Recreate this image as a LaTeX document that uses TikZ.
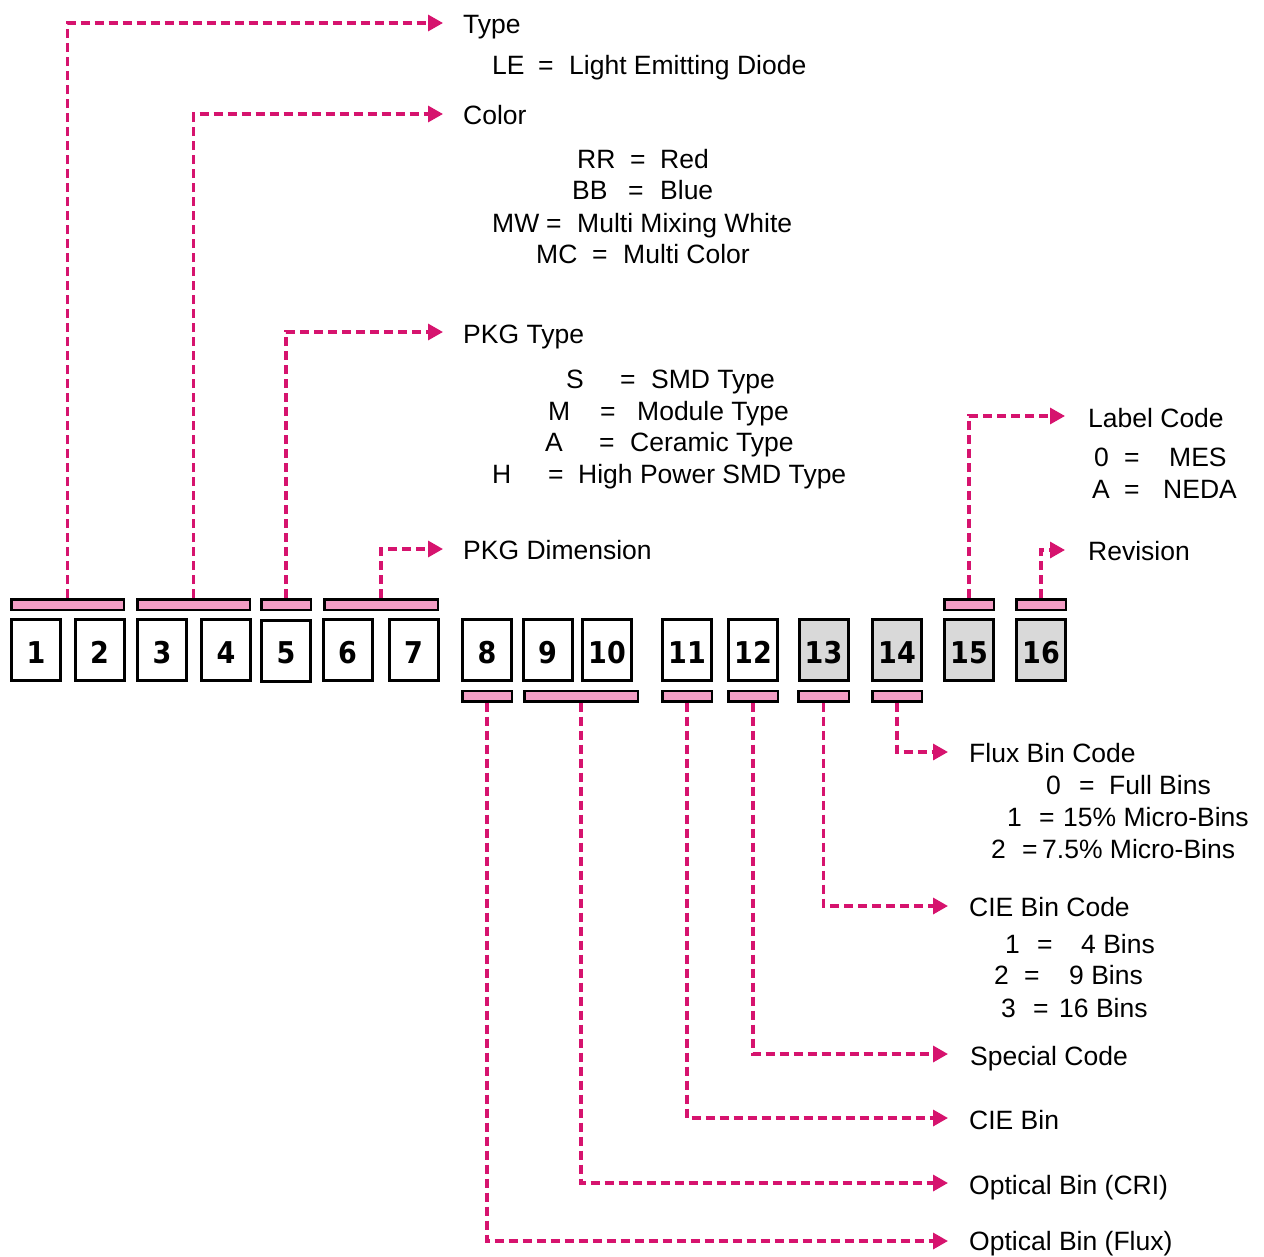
\documentclass[tikz,border=0pt]{standalone}
\usepackage{fontspec}
\setmainfont{Liberation Sans}
\newfontfamily\boxfont{DejaVu Sans Condensed}
\usetikzlibrary{arrows.meta}
\definecolor{lnk}{RGB}{214,19,110}
\definecolor{barpink}{RGB}{243,157,196}
\definecolor{boxgray}{RGB}{217,217,217}
\newcommand\codeentry[7]{%
  \node[lbl] (#1k) at (#3,#2) {#4};
  \node[lbl] (#1e) at (#5,#2) {=};
  \node[lbl] (#1v) at (#6,#2) {#7};}
\newcommand\dg[1]{\raisebox{-2.5pt}[\height][\depth]{#1}}
\begin{document}
\begin{tikzpicture}[x=1pt,y=-1pt,
  digit/.style={draw=black,line width=3pt,minimum width=49pt,minimum height=61pt,inner sep=0pt,fill=white,
    font=\boxfont\bfseries\fontsize{30}{32}\selectfont},
  graydigit/.style={digit,fill=boxgray},
  bar/.style={draw=black,line width=2.5pt,fill=barpink,minimum height=10.5pt,inner sep=0pt},
  conn/.style={draw=lnk,line width=3.3pt,dash pattern=on 9pt off 5pt,-{Triangle[length=15pt,width=16pt]}},
  lbl/.style={anchor=base west,inner sep=0pt,font=\fontsize{26.5}{30}\selectfont}]
\useasboundingbox (0,0) rectangle (1264,1256);
% digit boxes
\node[digit] (d1) at (36,650) {\dg{1}};
\node[digit] (d2) at (99.5,650) {\dg{2}};
\node[digit] (d3) at (162,650) {\dg{3}};
\node[digit] (d4) at (226,650) {\dg{4}};
\node[digit] (d5) at (286,650.5) {\dg{5}};
\node[digit] (d6) at (347.5,650) {\dg{6}};
\node[digit] (d7) at (413.5,650) {\dg{7}};
\node[digit] (d8) at (487,650) {\dg{8}};
\node[digit] (d9) at (547.5,650) {\dg{9}};
\node[digit] (d10) at (607,650) {\dg{10}};
\node[digit] (d11) at (687,650) {\dg{11}};
\node[digit] (d12) at (753,650) {\dg{12}};
\node[graydigit] (d13) at (823.5,650) {\dg{13}};
\node[graydigit] (d14) at (897,650) {\dg{14}};
\node[graydigit] (d15) at (969,650) {\dg{15}};
\node[graydigit] (d16) at (1041,650) {\dg{16}};
% bars above
\node[bar,minimum width=112.5pt] (bA) at (67.5,604.5) {};
\node[bar,minimum width=112.5pt] (bB) at (193.5,604.5) {};
\node[bar,minimum width=49.5pt] (bC) at (286,604.5) {};
\node[bar,minimum width=113.5pt] (bD) at (381,604.5) {};
\node[bar,minimum width=49.5pt] (bO) at (969,604.5) {};
\node[bar,minimum width=49.5pt] (bP) at (1041,604.5) {};
% bars below
\node[bar,minimum width=49.5pt] (bH) at (487,696) {};
\node[bar,minimum width=113.5pt] (bI) at (581,696) {};
\node[bar,minimum width=49.5pt] (bK) at (687,696) {};
\node[bar,minimum width=49.5pt] (bL) at (753,696) {};
\node[bar,minimum width=50.5pt] (bM) at (823.5,696) {};
\node[bar,minimum width=49.5pt] (bN) at (897,696) {};
% arrow targets
\coordinate (tType) at (443,23);
\coordinate (tColor) at (443,114);
\coordinate (tPkg) at (443,332);
\coordinate (tDim) at (443,549);
\coordinate (tLabel) at (1065,416);
\coordinate (tRev) at (1065,550);
\coordinate (tFlux) at (948,752);
\coordinate (tCie) at (948,906);
\coordinate (tSpec) at (948,1054);
\coordinate (tCieBin) at (948,1118);
\coordinate (tCri) at (948,1183);
\coordinate (tOptFlux) at (948,1241);
% connectors
\draw[conn] (bA.north) |- (tType);
\draw[conn] (bB.north) |- (tColor);
\draw[conn] (bC.north) |- (tPkg);
\draw[conn] (bD.north) |- (tDim);
\draw[conn] (bO.north) |- (tLabel);
\draw[conn] (bP.north) |- (tRev);
\draw[conn] (bN.south) |- (tFlux);
\draw[conn] (bM.south) |- (tCie);
\draw[conn] (bL.south) |- (tSpec);
\draw[conn] (bK.south) |- (tCieBin);
\draw[conn] (bI.south) |- (tCri);
\draw[conn] (bH.south) |- (tOptFlux);
% titles
\node[lbl] (hType) at (463,33) {Type};
\node[lbl] (hColor) at (463,124) {Color};
\node[lbl] (hPkg) at (463,343) {PKG Type};
\node[lbl] (hDim) at (463,559) {PKG Dimension};
\node[lbl] (hLabel) at (1088,427) {Label Code};
\node[lbl] (hRev) at (1088,560) {Revision};
\node[lbl] (hFlux) at (969,762) {Flux Bin Code};
\node[lbl] (hCie) at (969,916) {CIE Bin Code};
\node[lbl] (hSpec) at (970,1065) {Special Code};
\node[lbl] (hCieBin) at (969,1129) {CIE Bin};
\node[lbl] (hCri) at (969,1194) {Optical Bin (CRI)};
\node[lbl] (hOptFlux) at (969,1250) {Optical Bin (Flux)};
% entries
\codeentry{le}{74}{492}{LE}{538}{569}{Light Emitting Diode}
\codeentry{rr}{168}{577}{RR}{630}{660}{Red}
\codeentry{bb}{199}{572}{BB}{628}{660}{Blue}
\codeentry{mw}{232}{492}{MW}{546}{577}{Multi Mixing White}
\codeentry{mc}{263}{536}{MC}{592}{623}{Multi Color}
\codeentry{ps}{388}{566}{S}{620}{651}{SMD Type}
\codeentry{pm}{420}{548}{M}{600}{637}{Module Type}
\codeentry{pa}{451}{545}{A}{599}{630}{Ceramic Type}
\codeentry{ph}{483}{492}{H}{548}{578}{High Power SMD Type}
\codeentry{lz}{466}{1094}{0}{1124}{1169}{MES}
\codeentry{la}{498}{1092}{A}{1124}{1163}{NEDA}
\codeentry{fz}{794}{1046}{0}{1079}{1109}{Full Bins}
\codeentry{fo}{826}{1007}{1}{1039}{1063}{15\% Micro-Bins}
\codeentry{ft}{858}{991}{2}{1022}{1042}{7.5\% Micro-Bins}
\codeentry{co}{953}{1005}{1}{1037}{1081}{4 Bins}
\codeentry{ct}{984}{994}{2}{1024}{1069}{9 Bins}
\codeentry{ch}{1017}{1001}{3}{1033}{1059}{16 Bins}
\end{tikzpicture}
\end{document}
